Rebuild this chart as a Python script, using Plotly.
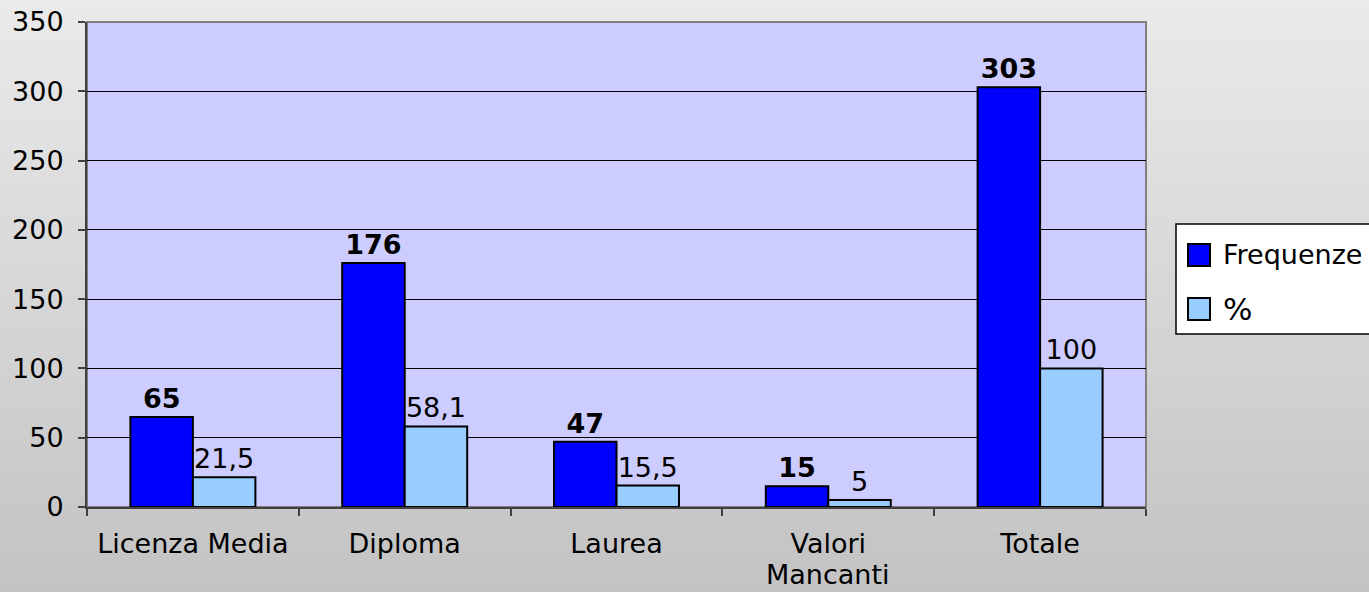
import plotly.graph_objects as go

categories = ["Licenza Media", "Diploma", "Laurea", "Valori Mancanti", "Totale"]
tick_labels = ["Licenza Media", "Diploma", "Laurea", "Valori", "Totale"]
tick_second_line = {"Valori Mancanti": "Mancanti"}
frequenze = [65, 176, 47, 15, 303]
percentuali = [21.5, 58.1, 15.5, 5, 100]
series_names = ["Frequenze", "%"]
y_ticks = [0, 50, 100, 150, 200, 250, 300, 350]

FONT = "DejaVu Sans"
FS = 27
W, H = 1369, 592
ML, MR, MT, MB = 87, 223, 22, 85

def fmt(v):
    return f"{v:g}".replace(".", ",")

fig = go.Figure()
fig.add_trace(go.Bar(
    x=categories, y=frequenze, name=series_names[0],
    marker=dict(color="#0000FF", line=dict(color="#000000", width=2)),
    text=[fmt(v) for v in frequenze], textposition="outside",
    textfont=dict(family=FONT, size=FS, color="#000000", weight="bold"),
    cliponaxis=False, showlegend=False,
))
fig.add_trace(go.Bar(
    x=categories, y=percentuali, name=series_names[1],
    marker=dict(color="#99CCFF", line=dict(color="#000000", width=2)),
    text=[fmt(v) for v in percentuali], textposition="outside",
    textfont=dict(family=FONT, size=FS, color="#000000"),
    cliponaxis=False, showlegend=False,
))

pw = W - ML - MR
ph = H - MT - MB
def px(xp):
    return (xp - ML) / pw
def py(yp):
    return (H - MB - yp) / ph

shapes = []
# paper gradient background
n = 60
top = (0xEA, 0xEA, 0xEA)
bot = (0xC3, 0xC3, 0xC3)
for i in range(n):
    t = i / (n - 1)
    c = tuple(round(top[k] + (bot[k] - top[k]) * t) for k in range(3))
    y_top = i * H / n
    y_bot = (i + 1) * H / n
    shapes.append(dict(type="rect", xref="paper", yref="paper",
                       x0=px(-5), x1=px(W + 5),
                       y1=py(y_top - 0.5), y0=py(y_bot + 0.5),
                       fillcolor="rgb(%d,%d,%d)" % c, line=dict(width=0), layer="below"))
# plot area
shapes.append(dict(type="rect", xref="x domain", yref="y domain", x0=0, x1=1, y0=0, y1=1,
                   fillcolor="#CCCCFF", line=dict(color="#808080", width=2), layer="below"))

# legend (manual)
shapes.append(dict(type="rect", xref="paper", yref="paper",
                   x0=px(1176), x1=px(1380), y0=py(334), y1=py(224),
                   fillcolor="#FFFFFF", line=dict(color="#000000", width=1.5), layer="above"))
leg_colors = ["#0000FF", "#99CCFF"]
leg_y = [255, 309]
annotations = []
for name, col, yc in zip(series_names, leg_colors, leg_y):
    shapes.append(dict(type="rect", xref="paper", yref="paper",
                       x0=px(1188), x1=px(1210), y0=py(yc + 11), y1=py(yc - 11),
                       fillcolor=col, line=dict(color="#000000", width=2), layer="above"))
    annotations.append(dict(xref="paper", yref="paper", x=px(1221), y=py(yc),
                            xanchor="left", yanchor="middle", text=name, showarrow=False,
                            font=dict(family=FONT, size=FS if name != "%" else 31, color="#000000")))

# second line of the two-line category label (tighter line spacing than Plotly's <br>)
for cat, line2 in tick_second_line.items():
    annotations.append(dict(xref="x", yref="paper", x=cat, y=py(574),
                            xanchor="center", yanchor="middle", text=line2, showarrow=False,
                            height=28, valign="middle",
                            font=dict(family=FONT, size=FS, color="#000000")))

fig.update_layout(
    width=W, height=H,
    margin=dict(l=ML, r=MR, t=MT, b=MB, pad=0, autoexpand=False),
    paper_bgcolor="#D8D8D8",
    plot_bgcolor="rgba(0,0,0,0)",
    barmode="group", bargap=0.41, bargroupgap=0,
    font=dict(family=FONT, size=FS, color="#000000"),
    shapes=shapes, annotations=annotations,
)
fig.update_xaxes(
    automargin=False,
    tickvals=categories, ticktext=tick_labels,
    showline=True, linecolor="#404040", linewidth=2,
    ticks="outside", tickson="boundaries", ticklen=7, tickcolor="#404040", tickwidth=1.5,
    showgrid=False, ticklabelstandoff=12,
    tickfont=dict(family=FONT, size=FS, color="#000000"),
)
fig.update_yaxes(
    automargin=False,
    range=[0, 350], tickvals=y_ticks, ticktext=[str(v) for v in y_ticks],
    showline=True, linecolor="#404040", linewidth=2,
    ticks="outside", ticklen=7, tickcolor="#404040", tickwidth=1.5,
    showgrid=True, gridcolor="#000000", gridwidth=1,
    zeroline=False, ticklabelstandoff=9,
    tickfont=dict(family=FONT, size=FS, color="#000000"),
)

fig.write_html("out.html", config={"displayModeBar": False},
               post_script="document.body.style.margin='0';document.body.style.overflow='hidden';")
